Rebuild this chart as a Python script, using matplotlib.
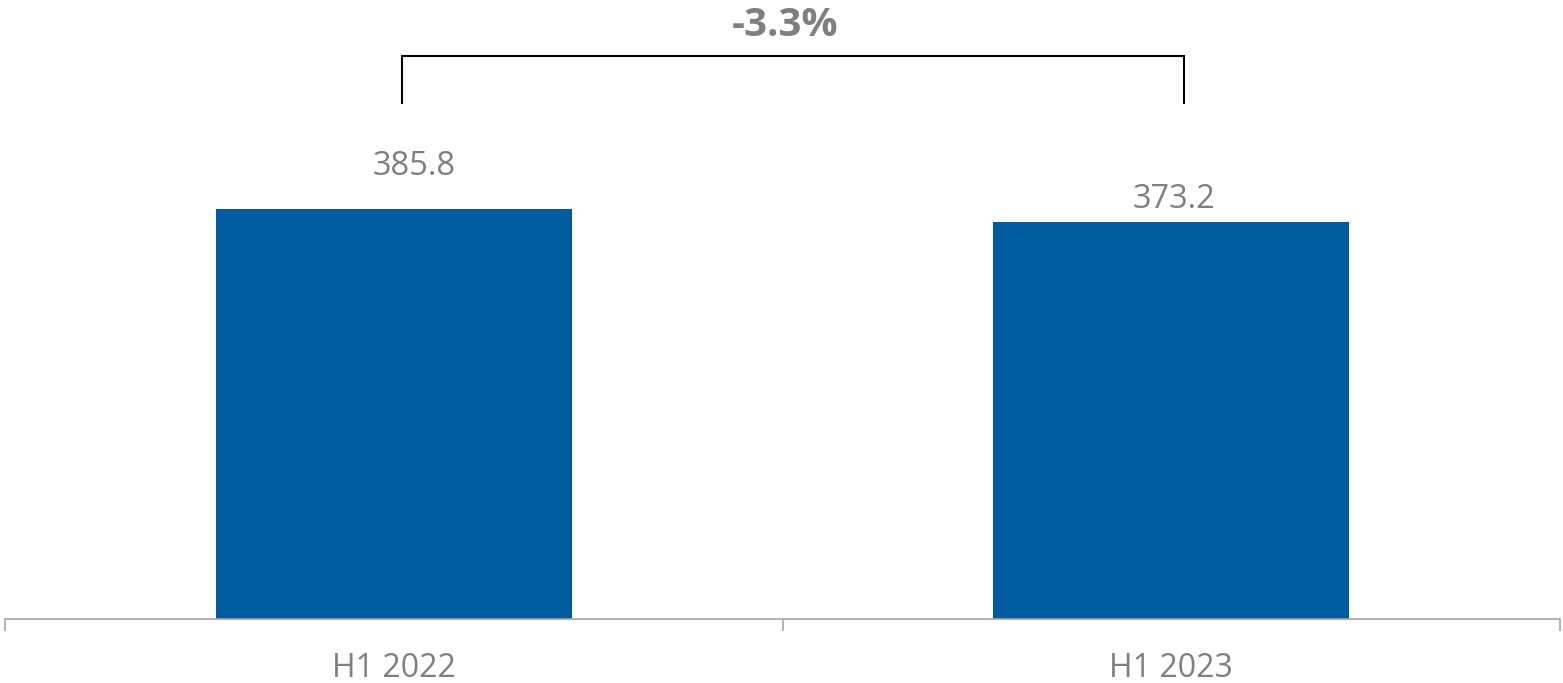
import matplotlib.pyplot as plt
import numpy as np

plt.rcParams['font.family'] = ['Open Sans', 'DejaVu Sans']

periods = ['H1 2022', 'H1 2023']
revenue = [385.8, 373.2]
change_label = '-3.3%'

bar_color = '#005a9e'
text_gray = '#7f7f7f'

fig = plt.figure(figsize=(15.63, 6.83), dpi=100)
ax = fig.add_axes([5 / 1563, 64 / 683, 1555 / 1563, 619 / 683])

x = np.arange(len(periods))
ax.bar(x, revenue, width=0.458, color=bar_color, zorder=2)

# value labels above the bars (baseline placed a little above the bar top)
label_dx = [0.026, 0.003]
label_pad = [32, 13.5]
for xi, v, dx, p in zip(x, revenue, label_dx, label_pad):
    ax.text(xi + dx, v + p, f'{v:.1f}', ha='center', va='baseline',
            fontsize=23.5, color=text_gray)

# bracket with the change between the two halves
y_top, y_bot = 530, 485.6
bx0, bx1 = x[0] + 0.01, x[1] + 0.016
ax.plot([bx0, bx0, bx1, bx1], [y_bot, y_top, y_top, y_bot],
        color='black', lw=1.5, solid_joinstyle='miter', clip_on=False)
ax.text((bx0 + bx1) / 2 - 0.01, 548.5, change_label, ha='center', va='baseline',
        fontsize=29, fontweight='bold', color=text_gray)

ax.set_xlim(-0.5, 1.5)
ax.set_ylim(0, 582.5)

for s in ['top', 'right', 'left']:
    ax.spines[s].set_visible(False)
ax.spines['bottom'].set_color('#a6a6a6')
ax.spines['bottom'].set_linewidth(1.2)

ax.set_yticks([])
ax.set_xticks(x)
ax.set_xticklabels(periods, fontsize=23, color=text_gray)
ax.tick_params(axis='x', which='major', length=0, pad=24)
ax.set_xticks([-0.5, 0.5, 1.5], minor=True)
ax.tick_params(axis='x', which='minor', length=8.6, width=1.2, color='#a6a6a6')

plt.savefig('out.png', dpi=100)
plt.close()
